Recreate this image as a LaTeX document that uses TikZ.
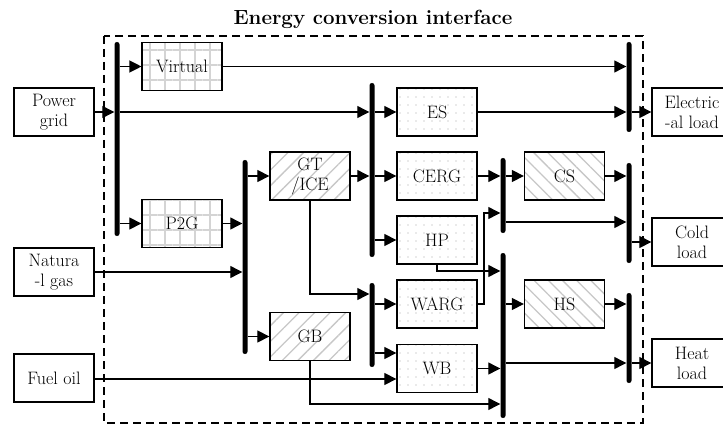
\documentclass[tikz,border=0pt]{standalone}
\usetikzlibrary{arrows.meta,patterns.meta}
\begin{document}
\begin{tikzpicture}[x=1pt,y=-1pt,
  txt/.style={font=\fontsize{18}{20}\selectfont, align=center},
  box/.style={txt, draw, line width=1.3pt, minimum width=80pt, minimum height=48pt, inner sep=0pt},
  gridbox/.style={box, pattern={Hatch[angle=0,distance=15pt,line width=1.1pt]}, pattern color=black!17},
  nebox/.style={box, pattern={Lines[angle=45,distance=11pt,line width=1.3pt]}, pattern color=black!22},
  nwbox/.style={box, pattern={Lines[angle=-45,distance=10pt,line width=1.3pt]}, pattern color=black!22},
  dotbox/.style={box, pattern={Dots[distance=8pt,radius=0.6pt]}, pattern color=black!35},
  bus/.style={fill=black, minimum width=5pt, inner sep=0pt, rounded corners=2.4pt},
  arr/.style={line width=1.2pt, -{Triangle[length=12pt,width=12pt]}},
  frame/.style={line width=1.2pt, dash pattern=on 8pt off 5pt}]
\useasboundingbox (0,0) rectangle (723,425);

% title and frame
\node[font=\fontsize{20.5}{23}\selectfont\bfseries] (title) at (373,19) {Energy conversion interface};
\draw[frame] (104,36) rectangle (643,423);

% buses
\node[bus, minimum height=194pt] (b1) at (117,139) {};
\node[bus, minimum height=194pt] (b2) at (245,257) {};
\node[bus, minimum height=174pt] (b3) at (372,170) {};
\node[bus, minimum height=84pt]  (b4) at (372,325) {};
\node[bus, minimum height=75pt]  (b5) at (503,195.5) {};
\node[bus, minimum height=165pt] (b6) at (503,335.5) {};
\node[bus, minimum height=90pt]  (b7) at (629,87) {};
\node[bus, minimum height=100pt] (b8) at (629,213) {};
\node[bus, minimum height=90pt]  (b9) at (629,338) {};

% sources and loads
\node[box] (pg) at (54,112) {Power\\grid};
\node[box] (ng) at (54,272) {Natura\\-l gas};
\node[box] (fo) at (54,378) {Fuel oil};
\node[box] (el) at (692,112) {Electric\\-al load};
\node[box] (cl) at (692,242) {Cold\\load};
\node[box] (hl) at (692,363) {Heat\\load};

% converters
\node[gridbox] (virt) at (182,66.5) {Virtual};
\node[gridbox] (p2g) at (182,223.5) {P2G};
\node[nebox] (gt) at (310,176) {GT\\/ICE};
\node[nebox] (gb) at (310,336.5) {GB};
\node[dotbox] (es) at (437,112) {ES};
\node[dotbox] (cerg) at (437,176) {CERG};
\node[dotbox] (hp) at (437,240) {HP};
\node[dotbox] (warg) at (437,304) {WARG};
\node[dotbox] (wb) at (437,368.5) {WB};
\node[nwbox] (cs) at (564.5,176) {CS};
\node[nwbox] (hs) at (564.5,304) {HS};

% helper coordinates
\coordinate (gtk) at (310,294);
\coordinate (gbk) at (310,404);
\coordinate (hpk) at (437,271);
\coordinate (wargk) at (484,213);
\coordinate (wbk) at (372,353);
\coordinate (fok) at (94,379);
\coordinate (ck) at (503,222);

% electricity
\draw[arr] (b1.east |- virt.west) -- (virt.west);
\draw[arr] (virt.east) -- (virt.east -| b7.west);
\draw[arr] (pg.east) -- (pg.east -| b1.west);
\draw[arr] (pg.east -| b1.east) -- (pg.east -| b3.west);
\draw[arr] (b3.east |- es.west) -- (es.west);
\draw[arr] (es.east) -- (es.east -| b7.west);
\draw[arr] (b7.east |- el.west) -- (el.west);
\draw[arr] (b1.east |- p2g.west) -- (p2g.west);
\draw[arr] (b3.east |- cerg.west) -- (cerg.west);
\draw[arr] (b3.east |- hp.west) -- (hp.west);
\draw[arr] (gt.east) -- (gt.east -| b3.west);

% gas
\draw[arr] (p2g.east) -- (p2g.east -| b2.west);
\draw[arr] (ng.east) -- (ng.east -| b2.west);
\draw[arr] (b2.east |- gt.west) -- (gt.west);
\draw[arr] (b2.east |- gb.west) -- (gb.west);

% heat
\draw[arr] (gt.south) |- (b4.west |- gtk);
\draw[arr] (b4.east |- warg.west) -- (warg.west);
\draw[arr] (b4.east |- wbk) -- (wb.west |- wbk);
\draw[arr] (fok) -- (fok -| wb.west);
\draw[arr] (gb.south) |- (b6.west |- gbk);
\draw[arr] (wb.east) -- (wb.east -| b6.west);
\draw[arr] (hp.south) |- (b6.west |- hpk);
\draw[arr] (b6.east |- hs.west) -- (hs.west);
\draw[arr] (hs.east) -- (hs.east -| b9.west);
\draw[arr] (b6.east |- hl.west) -- (hl.west -| b9.west);
\draw[arr] (b9.east |- hl.west) -- (hl.west);

% cold
\draw[arr] (warg.east) -| (wargk) -- (wargk -| b5.west);
\draw[arr] (cerg.east) -- (cerg.east -| b5.west);
\draw[arr] (b5.east |- cs.west) -- (cs.west);
\draw[arr] (cs.east) -- (cs.east -| b8.west);
\draw[arr] (b5.east |- ck) -- (ck -| b8.west);
\draw[arr] (b8.east |- cl.west) -- (cl.west);
\end{tikzpicture}
\end{document}
